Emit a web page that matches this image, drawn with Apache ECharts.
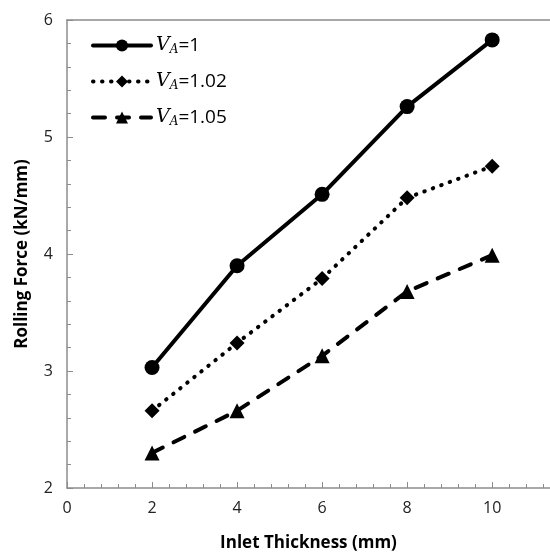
<!DOCTYPE html>
<html><head><meta charset="utf-8">
<script src="https://cdn.jsdelivr.net/npm/echarts@6/dist/echarts.min.js"></script>
<style>html,body{margin:0;padding:0;background:#fff}#c{width:550px;height:560px}</style>
</head><body><div id="c"></div>
<script>
const xValues = [2, 4, 6, 8, 10];
const seriesNames = ['V_A=1', 'V_A=1.02', 'V_A=1.05'];
const legendSuffix = ['1', '1.02', '1.05'];
const va100 = [3.03, 3.90, 4.51, 5.26, 5.83];
const va102 = [2.66, 3.24, 3.79, 4.48, 4.75];
const va105 = [2.30, 2.66, 3.13, 3.68, 3.99];
const xTickLabels = ['0', '2', '4', '6', '8', '10'];
const yTickLabels = ['2', '3', '4', '5', '6'];

const chart = echarts.init(document.getElementById('c'));
const gray = '#8c8c8c';
const labelFont = 'Open Sans, Liberation Sans, sans-serif';
function pairs(vals){ return xValues.map((x,i)=>[x, vals[i]]); }
const styles = [
  {data: va100, symbol: 'circle', symbolSize: 15, type: 'solid'},
  {data: va102, symbol: 'diamond', symbolSize: 15, type: [0.5, 8.5]},
  {data: va105, symbol: 'triangle', symbolSize: 15, type: [12, 12]}
];
chart.setOption({
  animation: false,
  grid: {left: 67, top: 20, right: 0, bottom: 72},
  legend: {
    left: 86, top: 31, orient: 'vertical', itemGap: 16, itemWidth: 58, itemHeight: 15,
    data: seriesNames,
    lineStyle: {width: 4},
    formatter: function(name){ return '{i|V}{s|A}{t|=' + legendSuffix[seriesNames.indexOf(name)] + '}'; },
    textStyle: {
      rich: {
        i: {fontFamily: 'DejaVu Serif', fontStyle: 'italic', fontSize: 19, color: '#000'},
        s: {fontFamily: 'DejaVu Serif', fontStyle: 'italic', fontSize: 12, color: '#000', verticalAlign: 'bottom', padding: [9,0,0,0]},
        t: {fontFamily: labelFont, fontSize: 19, color: '#000'}
      }
    }
  },
  xAxis: [{
    type: 'value', min: 0, max: 11.36, interval: 2,
    name: 'Inlet Thickness (mm)', nameLocation: 'middle', nameGap: 47,
    nameTextStyle: {fontFamily: labelFont, fontWeight: 'bold', fontSize: 17, color: '#000'},
    axisLine: {lineStyle: {color: gray, width: 1.5}},
    axisTick: {show: true, inside: true, length: 6, lineStyle: {color: gray}},
    minorTick: {show: true, splitNumber: 5, length: 4, lineStyle: {color: gray}},
    splitLine: {show: false},
    axisLabel: {fontFamily: labelFont, fontSize: 16, color: '#222', margin: 12, showMaxLabel: false,
      formatter: v => xTickLabels.includes(String(v)) ? String(v) : ''}
  }, {
    type: 'value', position: 'top', min: 0, max: 11.36,
    axisLine: {show: true, lineStyle: {color: gray, width: 1.5}},
    axisTick: {show: false}, axisLabel: {show: false}, splitLine: {show: false}
  }],
  yAxis: {
    type: 'value', min: 2, max: 6, interval: 1,
    name: 'Rolling Force (kN/mm)', nameLocation: 'middle', nameGap: 36,
    nameTextStyle: {fontFamily: labelFont, fontWeight: 'bold', fontSize: 17, color: '#000'},
    axisLine: {show: true, lineStyle: {color: gray, width: 1.5}},
    axisTick: {show: true, inside: true, length: 6, lineStyle: {color: gray}},
    minorTick: {show: true, splitNumber: 5, length: 4, lineStyle: {color: gray}},
    splitLine: {show: false},
    axisLabel: {fontFamily: labelFont, fontSize: 16, color: '#222', margin: 14,
      formatter: v => yTickLabels.includes(String(v)) ? String(v) : ''}
  },
  series: styles.map((s, i) => ({
    name: seriesNames[i], type: 'line', data: pairs(s.data),
    symbol: s.symbol, symbolSize: s.symbolSize, showSymbol: true,
    itemStyle: {color: '#000'},
    lineStyle: {color: '#000', width: 4, type: s.type, cap: 'round'}
  }))
});
</script></body></html>
